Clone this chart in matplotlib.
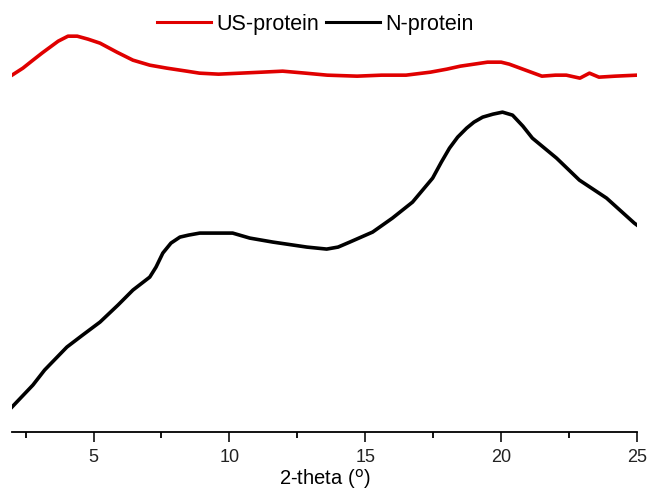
import matplotlib
matplotlib.use("Agg")
import matplotlib.pyplot as plt
from matplotlib.ticker import MultipleLocator

plt.rcParams["font.family"] = ["Liberation Sans", "DejaVu Sans"]

# US-protein (red), 2-theta vs intensity (a.u.)
us_theta = [2.0, 2.4, 2.77, 3.1, 3.4, 3.7, 4.06, 4.4, 4.8, 5.24, 5.86, 6.45,
            7.07, 7.7, 8.43, 8.9, 9.6, 10.4, 11.2, 11.96, 12.8, 13.6, 14.7,
            15.6, 16.5, 17.4, 18.0, 18.5, 19.0, 19.5, 20.0, 20.3, 20.6, 20.9,
            21.5, 22.0, 22.4, 22.9, 23.25, 23.6, 24.2, 25.0]
us_int = [375, 382, 390, 397, 403, 409, 414, 414, 411, 407, 398, 390,
          385, 382, 379, 377, 376, 377, 378, 379, 377, 375, 374,
          375, 375, 378, 381, 384, 386, 388, 388, 386, 383, 380,
          374, 375, 375, 372, 377, 373, 374, 375]

# N-protein (black)
n_theta = [2.0, 2.77, 3.2, 4.02, 4.6, 5.24, 5.9, 6.45, 7.07, 7.3, 7.55, 7.85,
           8.18, 8.5, 8.91, 9.54, 10.12, 10.75, 11.6, 12.85, 13.58, 14.0,
           14.43, 15.27, 16.0, 16.74, 17.48, 17.8, 18.1, 18.4, 18.73, 19.0,
           19.32, 19.7, 20.05, 20.42, 20.8, 21.15, 22.04, 22.88, 23.88, 24.9,
           25.0]
n_int = [43, 65, 80, 103, 115, 128, 145, 160, 173, 183, 197, 207,
         213, 215, 217, 217, 217, 212, 208, 203, 201, 203,
         208, 218, 232, 248, 272, 288, 302, 313, 322, 328,
         333, 336, 338, 335, 324, 312, 292, 270, 252, 227,
         225]

fig = plt.figure(figsize=(6.49, 4.94), dpi=100)
ax = fig.add_axes([0.0185, 0.1255, 0.963, 0.864])

ax.plot(us_theta, us_int, color="#e00000", lw=2.6, label="US-protein")
ax.plot(n_theta, n_int, color="black", lw=2.6, label="N-protein")

ax.set_xlim(2, 25)
ax.set_ylim(18, 445)
ax.xaxis.set_major_locator(MultipleLocator(5))
ax.xaxis.set_minor_locator(MultipleLocator(2.5))
ax.tick_params(axis="x", which="major", length=7, width=1.3, labelsize=13, pad=5, colors="#222222")
ax.tick_params(axis="x", which="minor", length=4, width=1.3)
ax.set_yticks([])
for s in ["left", "right", "top"]:
    ax.spines[s].set_visible(False)
ax.spines["bottom"].set_linewidth(1.3)

ax.set_xlabel("2-theta ($^{\\mathrm{o}}$)", fontsize=14.5, labelpad=1)

leg = ax.legend(loc="upper center", bbox_to_anchor=(0.485, 1.025), ncol=2, frameon=False,
                fontsize=15.5, handlelength=2.5, handletextpad=0.25, columnspacing=0.33)
for h in leg.get_lines():
    h.set_linewidth(2.2)

fig.savefig("out.png", dpi=100)
